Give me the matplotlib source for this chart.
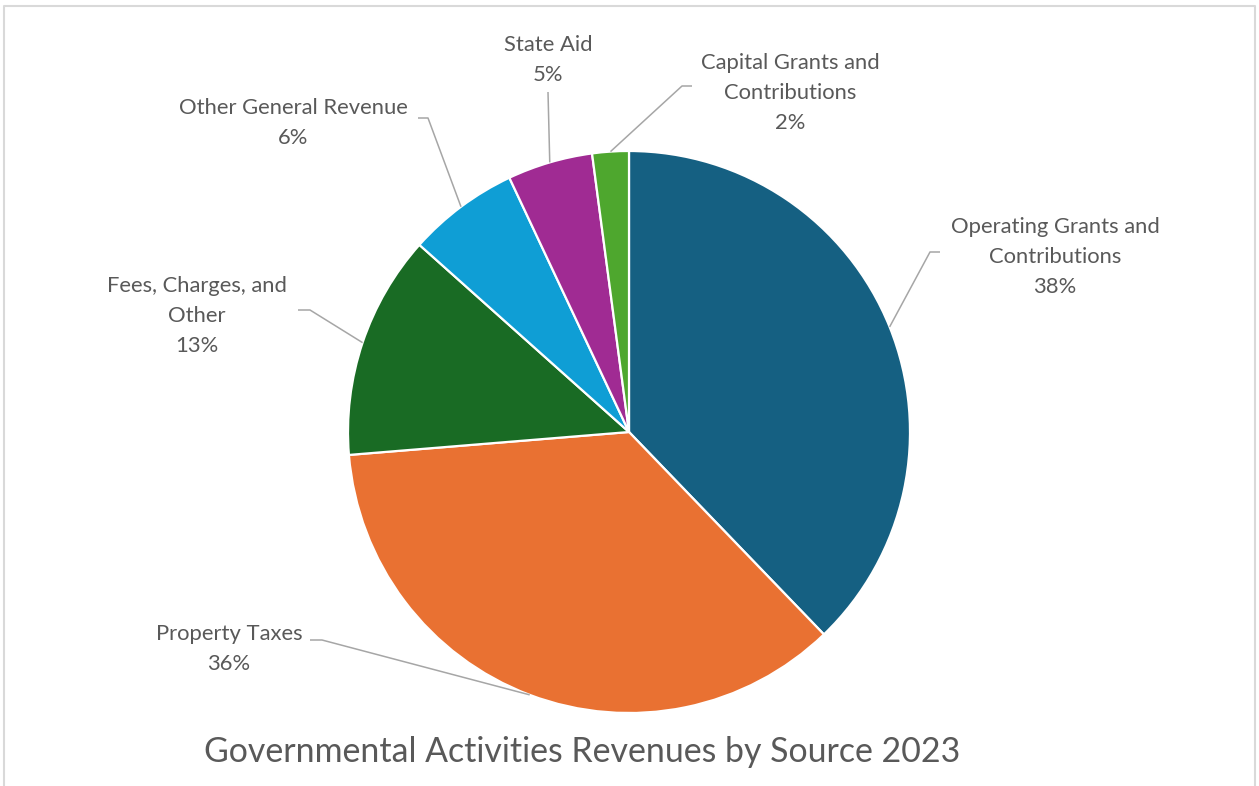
import numpy as np
import matplotlib
matplotlib.use('Agg')
import matplotlib.pyplot as plt

matplotlib.rcParams['font.family'] = ['Lato', 'DejaVu Sans']

# data
categories = ['Operating Grants and\nContributions', 'Property Taxes',
              'Fees, Charges, and\nOther', 'Other General Revenue',
              'State Aid', 'Capital Grants and\nContributions']
shares = [37.8, 35.9, 12.9, 6.4, 4.9, 2.1]
pct_labels = ['38%', '36%', '13%', '6%', '5%', '2%']
colors = ['#156082', '#E97132', '#196B24', '#0F9ED5', '#A02B93', '#4EA72E']

W, H = 1259, 786
fig = plt.figure(figsize=(W / 100, H / 100), dpi=100)
ax = fig.add_axes([0, 0, 1, 1])

cx, cy, r = 629, H - 432, 281
wedges, _ = ax.pie(shares, colors=colors, startangle=90, counterclock=False,
                   center=(cx, cy), radius=r, frame=True,
                   wedgeprops=dict(edgecolor='white', linewidth=1.6))
ax.set_xlim(0, W)
ax.set_ylim(0, H)
ax.axis('off')

# label layout (pixel positions, y from top): label centre, elbow, end of leader
layout = [
    ((1055, 257), (930, 252), (940, 252)),
    ((229, 649), (322, 640), (310, 640)),
    ((197, 316), (310, 310), (298, 310)),
    ((293, 123), (428, 118), (418, 118)),
    ((548, 60), (548, 92), (548, 92)),
    ((790, 93), (682, 86), (692, 86)),
]

text_col = '#595959'
line_col = '#A6A6A6'
for w, cat, pct, (lab, elbow, end) in zip(wedges, categories, pct_labels, layout):
    mid = np.deg2rad((w.theta1 + w.theta2) / 2)
    ax_x = cx + r * np.cos(mid)
    ax_y = cy + r * np.sin(mid)
    ax.plot([ax_x, elbow[0], end[0]], [ax_y, H - elbow[1], H - end[1]],
            color=line_col, lw=1.1, solid_capstyle='butt')
    ax.text(lab[0], H - lab[1], cat + '\n' + pct, ha='center', va='center',
            fontsize=15.8, color=text_col, linespacing=1.6)

ax.text(582, H - 752, 'Governmental Activities Revenues by Source 2023',
        ha='center', va='center', fontsize=24.4, color=text_col)

# chart border
bc = '#D9D9D9'
ax.plot([4, 4, 1255, 1255], [0, H - 6, H - 6, 0], color=bc, lw=1.5)

fig.savefig('out.png', dpi=100)
